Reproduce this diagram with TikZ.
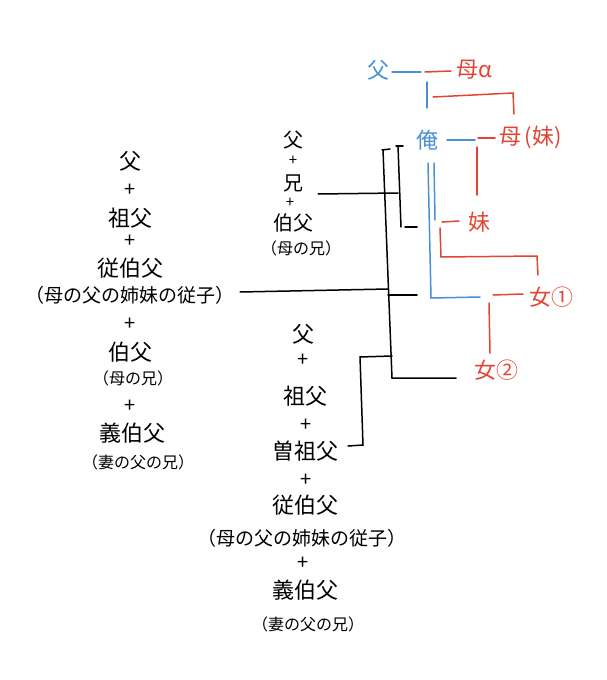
\documentclass[tikz,border=0pt]{standalone}
\usepackage{fontspec}
\newfontfamily\jp{Noto Sans CJK JP}
\definecolor{bluec}{RGB}{70,145,215}
\definecolor{redc}{RGB}{228,68,52}
\begin{document}
\begin{tikzpicture}[x=1pt,y=-1pt,
  big/.style={font=\jp\fontsize{22}{24}\selectfont, inner sep=0pt},
  bigs/.style={font=\jp\fontsize{20}{22}\selectfont, inner sep=0pt},
  mid/.style={font=\jp\fontsize{19}{21}\selectfont, inner sep=0pt},
  sml/.style={font=\jp\fontsize{16}{18}\selectfont, inner sep=0pt},
  pls/.style={font=\jp\fontsize{20}{22}\selectfont, inner sep=0pt},
  plss/.style={font=\jp\fontsize{15}{17}\selectfont, inner sep=0pt},
  ln/.style={line width=1.5pt, line cap=round, draw=black},
  bl/.style={line width=1.5pt, line cap=round, draw=bluec},
  rd/.style={line width=1.5pt, line cap=round, draw=redc},
  bt/.style={big, text=bluec},
  rt/.style={big, text=redc}]
\useasboundingbox (0,0) rectangle (607,680);

% ---- column 1 ----
\node[big] (a1) at (130,161) {父};
\node[pls] (a2) at (130,190) {+};
\node[big] (a3) at (130,218) {祖父};
\node[pls] (a4) at (130,241) {+};
\node[big] (a5) at (130,268) {従伯父};
\node[mid] (a6) at (130,295) {（母の父の姉妹の従子）};
\node[pls] (a7) at (130,324) {+};
\node[big] (a8) at (130,352) {伯父};
\node[sml] (a9) at (133,378) {（母の兄）};
\node[pls] (a10) at (130,406) {+};
\node[big] (a11) at (132,433) {義伯父};
\node[sml] (a12) at (138,462) {（妻の父の兄）};

% ---- column 2 ----
\node[bigs] (b1) at (293,140) {父};
\node[plss] (b2) at (293,161) {+};
\node[bigs] (b3) at (293,183) {兄};
\node[plss] (b4) at (290,203) {+};
\node[bigs] (b5) at (293,223) {伯父};
\node[sml] (b6) at (301,248) {（母の兄）};

% ---- column 3 ----
\node[big] (c1) at (303,334) {父};
\node[pls] (c2) at (303,360) {+};
\node[big] (c3) at (305,396) {祖父};
\node[pls] (c4) at (306,425) {+};
\node[big] (c5) at (305,451) {曽祖父};
\node[pls] (c6) at (306,480) {+};
\node[big] (c7) at (305,505) {従伯父};
\node[mid] (c8) at (302,538) {（母の父の姉妹の従子）};
\node[pls] (c9) at (303,563) {+};
\node[big] (c10) at (305,590) {義伯父};
\node[sml] (c11) at (308,624) {（妻の父の兄）};

% ---- right family ----
\node[bt] (fa) at (378,70) {父};
\node[rt, anchor=west] (mo) at (456,70) {母α};
\node[bt] (me) at (427,140) {俺};
\node[rt, anchor=west] (mos) at (499,137) {母\,(妹)};
\node[rt] (sis) at (479,222) {妹};
\node[rt, anchor=west] (d1) at (529,297) {女①};
\node[rt, anchor=west] (d2) at (474,370) {女②};

% ---- coloured connectors ----
\coordinate (p1) at (392,72);
\coordinate (p2) at (421,72);
\coordinate (p3) at (425,72);
\coordinate (p4) at (451,71);
\draw[bl] (p1) -- (p2);
\draw[rd] (p3) -- (p4);
\draw[bl] (427,82) -- (427,108);
\draw[rd] (433,97) -- (513,93) -- (514,114);

\draw[bl] (447,140) -- (475,140);
\draw[rd] (478,138) -- (495,138);
\draw[rd] (477,147) -- (477,195);

\draw[bl] (434,163) -- (435,220);
\draw[bl] (428,163) -- (431,298) -- (480,297);

\draw[rd] (442,222) -- (459,221);
\draw[rd] (440,228) -- (441,257) -- (537,256) -- (538,275);
\draw[rd] (493,295) -- (523,294);
\draw[rd] (489,303) -- (490,353);

% ---- black brackets ----
\coordinate (h1s) at (318,194);
\coordinate (h2s) at (240,292);
\draw[ln] (382,150) -- (390,149);
\draw[ln] (383,150) -- (392,378) -- (456,378);
\draw[ln] (396,146) -- (403,146);
\draw[ln] (398,146) -- (401,227);
\draw[ln] (405,227) -- (417,227);
\draw[ln] (h1s) -- (398,193);
\draw[ln] (h2s) -- (388,289);
\draw[ln] (388,295) -- (417,295);
\draw[ln] (392,356) -- (360,357) -- (363,445) -- (348,446);
\end{tikzpicture}
\end{document}
